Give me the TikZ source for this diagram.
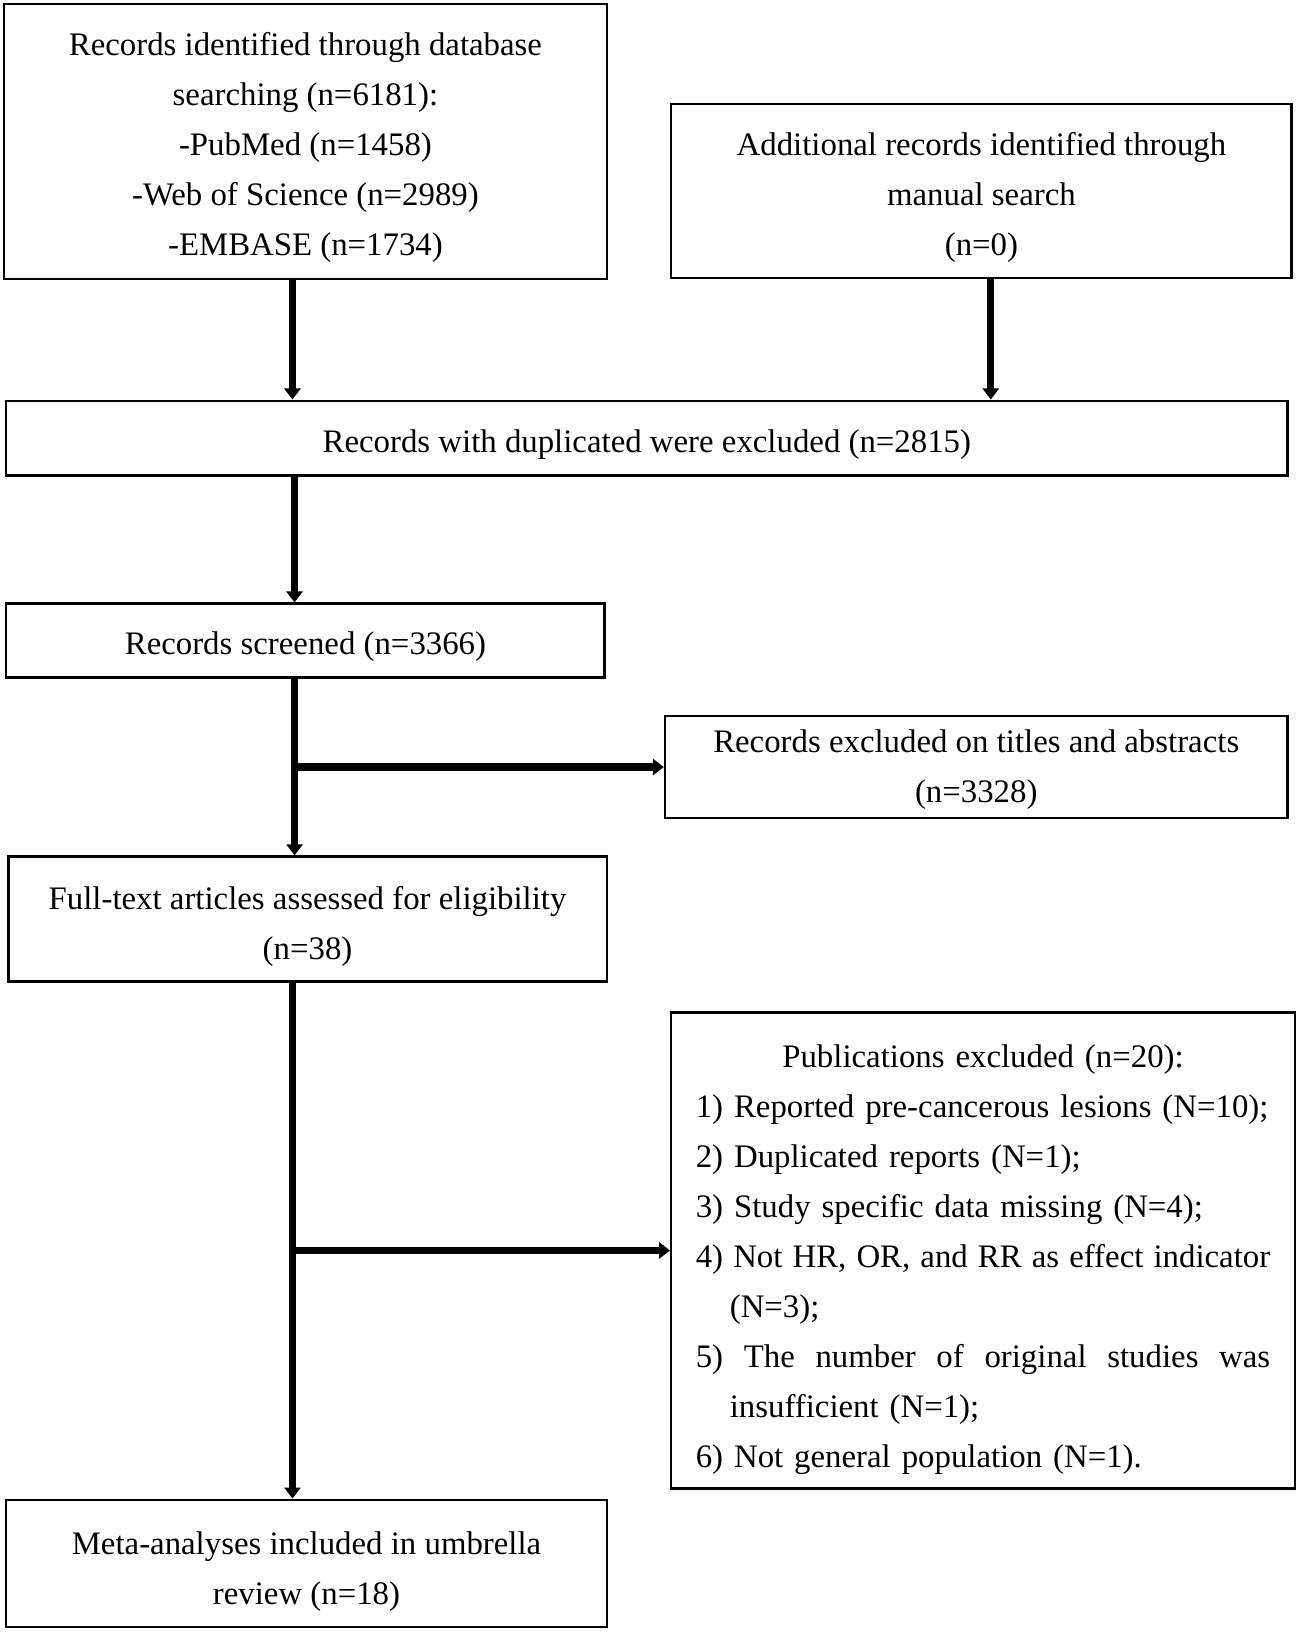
\documentclass[tikz,border=0pt]{standalone}
\usepackage{fontspec}
\setmainfont{Liberation Serif}
\usetikzlibrary{arrows.meta}
\newcommand\fs{\fontsize{16.4}{25}\selectfont}
\tikzset{
  bx/.style 2 args={draw, line width=1.2pt, minimum width={#1*0.52pt}, minimum height={#2*0.52pt}, inner sep=0pt},
  txt/.style={align=center, font=\fs, inner sep=0pt, yshift={-#1*0.52pt}},
  arr/.style={line width=3.6pt, -{Triangle[width=8pt,length=5.5pt]}}
}
\begin{document}
\begin{tikzpicture}[x=0.52pt,y=-0.52pt]
\useasboundingbox (0,0) rectangle (1250,1570);
\node[bx={579}{264}, label={[txt=6]center:{Records identified through database\\searching (n=6181):\\-PubMed (n=1458)\\-Web of Science (n=2989)\\-EMBASE (n=1734)}}] (A) at (293.5,136) {};
\node[bx={596}{167}, label={[txt=6]center:{Additional records identified through\\manual search\\(n=0)}}] (B) at (943,183.5) {};
\node[bx={1231}{72}, label={[txt=6]center:{Records with duplicated were excluded (n=2815)}}] (C) at (621.5,421) {};
\node[bx={575}{71}, label={[txt=6]center:{Records screened (n=3366)}}] (D) at (293.5,615.5) {};
\node[bx={598}{98}, label={[txt=2]center:{Records excluded on titles and abstracts\\(n=3328)}}] (F) at (938,737) {};
\node[bx={575}{120}, label={[txt=7]center:{Full-text articles assessed for eligibility\\(n=38)}}] (E) at (295.5,883) {};
\node[bx={599}{457}, label={[txt=9, text width=287pt, align=left]center:{%
\makebox[287pt][c]{Publications excluded (n=20):}\\
1) Reported pre-cancerous lesions (N=10);\\
2) Duplicated reports (N=1);\\
3) Study specific data missing (N=4);\\
\makebox[287pt][l]{4)\hfill Not\hfill HR,\hfill OR,\hfill and\hfill RR\hfill as\hfill effect\hfill indicator}\\
\hspace*{17pt}(N=3);\\
\makebox[287pt][l]{5)\hfill The\hfill number\hfill of\hfill original\hfill studies\hfill was}\\
\hspace*{17pt}insufficient (N=1);\\
6) Not general population (N=1).}}] (G) at (944.5,1201.5) {};
\node[bx={577}{122}, label={[txt=8]center:{Meta-analyses included in umbrella\\review (n=18)}}] (H) at (294.5,1502) {};
% connectors
\draw[arr] ([xshift={-12.5*0.52pt}]A.south) -- ([xshift={-12.5*0.52pt}]A.south |- C.north);
\draw[arr] ([xshift={9*0.52pt}]B.south) -- ([xshift={9*0.52pt}]B.south |- C.north);
\draw[arr] ([xshift={-10.5*0.52pt}]C.south -| D.north) -- ([xshift={-10.5*0.52pt}]D.north);
\draw[arr] ([xshift={-10.5*0.52pt}]D.south) -- ([xshift={-10.5*0.52pt}]D.south |- E.north);
\coordinate (j1) at ([xshift={-10.5*0.52pt}]D.south |- F.west);
\draw[arr] ([xshift={-1.8pt}]j1) -- (F.west);
\draw[arr] ([xshift={-14.5*0.52pt}]E.south) -- ([xshift={-14.5*0.52pt}]E.south |- H.north);
\coordinate (j2) at ([xshift={-14.5*0.52pt}]E.south |- G.west);
\draw[arr] ([xshift={-1.8pt}]j2) -- (G.west);
\end{tikzpicture}
\end{document}
